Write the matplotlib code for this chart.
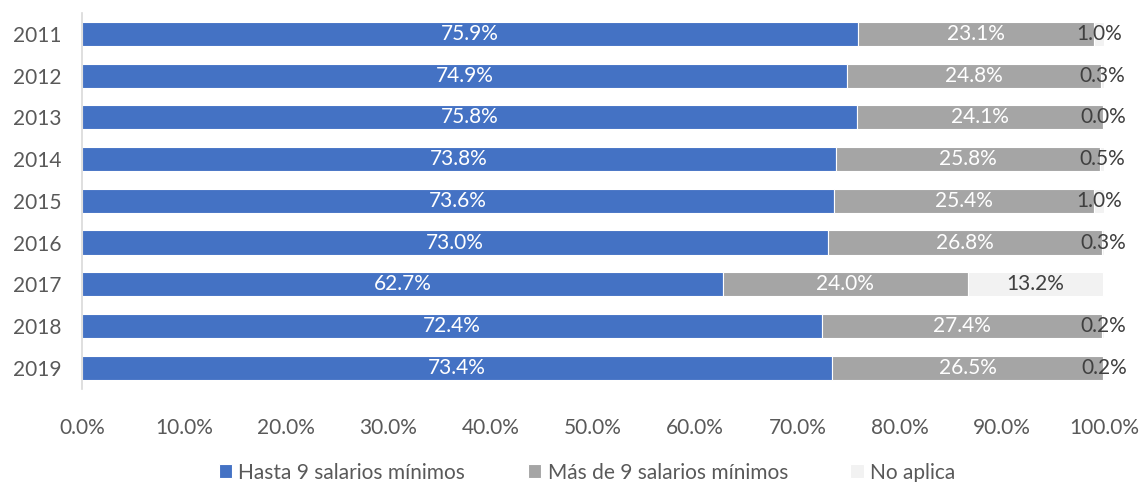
import matplotlib
matplotlib.use("Agg")
import matplotlib.pyplot as plt
import numpy as np

plt.rcParams['font.family'] = ['Lato', 'DejaVu Sans']

years = ["2011", "2012", "2013", "2014", "2015", "2016", "2017", "2018", "2019"]
hasta9 = [75.9, 74.9, 75.8, 73.8, 73.6, 73.0, 62.7, 72.4, 73.4]
mas9 = [23.1, 24.8, 24.1, 25.8, 25.4, 26.8, 24.0, 27.4, 26.5]
no_aplica = [1.0, 0.3, 0.0, 0.5, 1.0, 0.3, 13.2, 0.2, 0.2]
series_names = ["Hasta 9 salarios mínimos", "Más de 9 salarios mínimos", "No aplica"]
colors = ["#4472C4", "#A5A5A5", "#F2F2F2"]
label_colors = ["white", "white", "#404040"]
xticks = np.arange(0, 101, 10)

fig = plt.figure(figsize=(11.42, 4.82), dpi=100)
ax = fig.add_axes([0.0718, 0.1936, 0.8949, 0.7794])

y = np.arange(len(years))
left = np.zeros(len(years))
for vals, name, c, tc in zip([hasta9, mas9, no_aplica], series_names, colors, label_colors):
    vals = np.array(vals)
    ax.barh(y, vals, left=left, height=0.58, color=c, edgecolor="white",
            linewidth=0.8, label=name)
    for yi, l, v in zip(y, left, vals):
        ax.text(l + v / 2, yi, f"{v:.1f}%", ha="center", va="center",
                color=tc, fontsize=15)
    left = left + vals

ax.set_ylim(len(years) - 0.5, -0.5)
ax.set_xlim(0, 100)
ax.set_yticks(y)
ax.set_yticklabels(years)
ax.set_xticks(xticks)
ax.set_xticklabels([f"{t:.1f}%" for t in xticks])
ax.tick_params(axis="both", length=0, labelsize=15, labelcolor="#595959")
ax.tick_params(axis="x", pad=21)
ax.tick_params(axis="y", pad=15)
for s in ["top", "right", "bottom"]:
    ax.spines[s].set_visible(False)
ax.spines["left"].set_color("#D9D9D9")
ax.spines["left"].set_linewidth(1.2)

fig.legend(loc="lower center", bbox_to_anchor=(0.514, -0.04), ncol=3, frameon=False,
           fontsize=15, handlelength=0.65, handleheight=0.65, handletextpad=0.3,
           columnspacing=3.0, labelcolor="#595959")

fig.savefig("out.png", dpi=100)
